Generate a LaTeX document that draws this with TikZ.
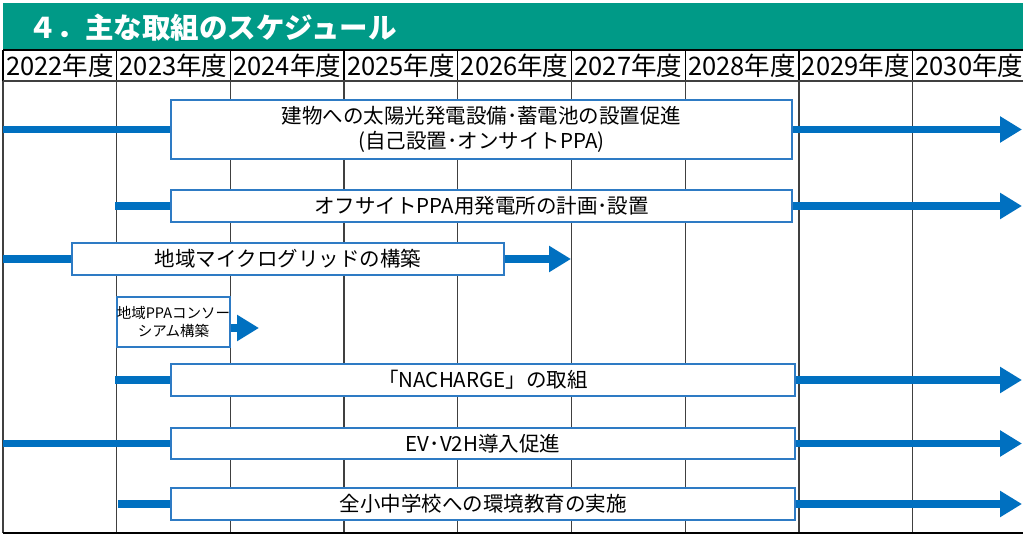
\documentclass[tikz,border=0pt]{standalone}
\usepackage{fontspec}
\setmainfont{Noto Sans CJK JP}
\usepackage{xcolor}
\usepackage{tikz}
\usetikzlibrary{calc}
\usetikzlibrary{arrows.meta}
\definecolor{hdgreen}{HTML}{009A87}
\definecolor{planblue}{HTML}{0070C0}
\definecolor{boxblue}{HTML}{2E7BC4}
\tikzset{
  plan/.style={draw=boxblue, line width=1.6pt, fill=white, inner sep=0pt,
    align=center, font=\fontsize{20.5}{25}\selectfont},
  flow/.style={planblue, line width=7.5pt, -{Triangle[length=22pt,width=25pt]}},
  stub/.style={planblue, line width=7.5pt},
  yearlab/.style={inner sep=0pt, font=\fontsize{25.5}{27}\selectfont},
}

\begin{document}
\begin{tikzpicture}[x=1pt,y=-1pt]
\useasboundingbox (0,0) rectangle (1023,534);
\fill[white] (0,0) rectangle (1023,534);
\fill[hdgreen] (3,3) rectangle (1026,50);
\node[anchor=west, text=white, inner sep=0pt, font=\fontsize{28.5}{30}\selectfont\bfseries] (title) at (28,28) {４．主な取組のスケジュール};

% grid
\foreach \i in {0,...,9} {
  \draw[black!75, line width=1.3pt] ({3+113.7*\i},81)--({3+113.7*\i},533);
  \draw[black, line width=1.3pt] ({3+113.7*\i},50)--({3+113.7*\i},81);
}
\draw[black, line width=1.3pt] (3,50)--(1026,50);
\draw[black!75, line width=1.3pt] (3,81)--(1026,81);
\draw[black, line width=1.3pt] (3,533)--(1026,533);

\foreach \yr [count=\i from 0] in {2022,...,2030}
  \node[yearlab] (y\yr) at ({3+113.7*(\i+0.5)},66) {\yr 年度};

% plans
\node[plan, minimum width=621pt, minimum height=59pt] (pv) at (481.5,129.5) {建物への太陽光発電設備･蓄電池の設置促進\\(自己設置･オンサイトPPA)};
\node[plan, minimum width=621pt, minimum height=32pt] (offsite) at (481.5,206) {オフサイトPPA用発電所の計画･設置};
\node[plan, minimum width=432pt, minimum height=32pt] (grid) at (288,259) {地域マイクログリッドの構築};
\node[plan, minimum width=111pt, minimum height=50pt, font=\fontsize{14.5}{18}\selectfont] (ppa) at (173.5,322) {地域PPAコンソー\\シアム構築};
\node[plan, minimum width=624pt, minimum height=32pt] (nacharge) at (483,380) {「NACHARGE」の取組};
\node[plan, minimum width=624pt, minimum height=31pt] (ev) at (483,443.5) {EV･V2H導入促進};
\node[plan, minimum width=624pt, minimum height=32pt] (school) at (483,504) {全小中学校への環境教育の実施};

\coordinate (pvend) at (1022,129.5);
\coordinate (offend) at (1022,206);
\coordinate (gridend) at (571,259);
\coordinate (ppaend) at (259,328);
\coordinate (nachend) at (1022,380);
\coordinate (evend) at (1022,443.5);
\coordinate (schend) at (1022,504);

\draw[stub] (3,129.5) -- (pv.west);
\draw[flow] (pv.east) -- (pvend);
\draw[stub] (115,206) -- (offsite.west);
\draw[flow] (offsite.east) -- (offend);
\draw[stub] (3,259) -- (grid.west);
\draw[flow] (grid.east) -- (gridend);
\draw[flow] ([yshift=-6pt]ppa.east) -- (ppaend);
\draw[stub] (115,380) -- (nacharge.west);
\draw[flow] (nacharge.east) -- (nachend);
\draw[stub] (3,443.5) -- (ev.west);
\draw[flow] (ev.east) -- (evend);
\draw[stub] (118,504) -- (school.west);
\draw[flow] (school.east) -- (schend);
\end{tikzpicture}
\end{document}
